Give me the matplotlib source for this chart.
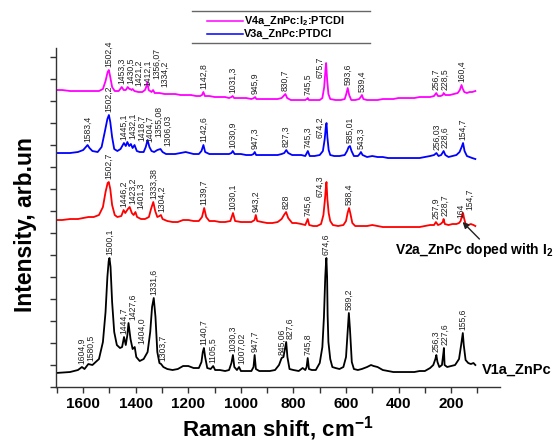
import numpy as np
import matplotlib.pyplot as plt
from matplotlib.ticker import MultipleLocator, NullFormatter
from matplotlib.lines import Line2D

plt.rcParams['font.family'] = 'Liberation Sans'
plt.rcParams['mathtext.fontset'] = 'custom'                                   # bold sub/superscripts
plt.rcParams['mathtext.rm'] = 'Liberation Sans:bold'
plt.rcParams['mathtext.it'] = 'Liberation Sans:bold'
plt.rcParams['mathtext.bf'] = 'Liberation Sans:bold'

# Raman spectra, (shift cm-1, intensity) with the stacking offset already in
v1a = [(1705, 14), (1650, 15), (1620, 17), (1604.9, 20), (1595, 18), (1580.5, 23), (1565, 22),
       (1540, 28), (1525, 45), (1515, 75), (1508, 110), (1503, 126), (1500.1, 129), (1496, 120),
       (1490, 85), (1482, 55), (1472, 42), (1460, 39), (1452, 40), (1444.7, 50), (1438, 42),
       (1432, 52), (1427.6, 64),
       (1420, 48), (1412, 38), (1404, 40), (1398, 30), (1385, 26), (1370, 28), (1355, 35),
       (1345, 55), (1338, 80), (1331.6, 89), (1325, 70), (1318, 35), (1310, 24), (1303.7, 23),
       (1295, 20), (1280, 18), (1260, 17), (1240, 18), (1220, 21), (1200, 21), (1180, 19),
       (1160, 19), (1150, 25), (1145, 35), (1140.7, 39), (1136, 30), (1128, 19), (1115, 18),
       (1105.5, 21), (1098, 17), (1080, 17), (1060, 16), (1045, 17), (1036, 24), (1030.3, 32),
       (1025, 20), (1015, 17), (1007.02, 20), (1000, 16), (980, 16), (960, 16), (952, 20),
       (947.7, 32), (943, 18), (930, 16), (910, 16), (890, 16), (870, 17), (855, 22), (845.06, 29),
       (838, 30), (831, 40), (827.6, 45), (823, 30), (815, 18), (800, 17), (780, 16), (765, 19),
       (755, 17), (750, 20), (745.8, 29), (741, 18), (730, 17), (715, 17), (700, 24), (690, 40),
       (684, 70), (679, 110), (676, 125), (674.6, 129), (672, 110), (670, 72), (667, 45), (660, 28),
       (652, 20), (640, 19),
       (625, 18), (610, 20), (600, 30), (594, 55), (589.2, 74), (585, 58), (578, 25), (570, 18),
       (555, 17), (540, 18), (520, 20), (505, 22), (495, 21), (480, 20), (460, 17), (440, 16),
       (420, 15), (400, 15), (380, 15), (360, 15), (340, 15), (320, 16), (300, 16), (280, 19),
       (268, 22), (260, 28), (256.3, 32), (252, 25), (245, 20), (235, 22), (229, 35), (227.6, 39),
       (225, 22), (215, 20), (200, 21), (185, 22), (170, 28), (162, 42), (157, 52), (155.6, 54),
       (152, 42), (145, 27), (135, 24), (125, 23), (115, 24), (108, 22)]

v2a = [(1705, 167), (1680, 167), (1650, 168), (1620, 168), (1600, 169), (1580, 170), (1560, 170),
       (1540, 172), (1525, 180), (1515, 195), (1507, 204), (1502.7, 205), (1497, 198), (1490, 182),
       (1480, 172), (1470, 170), (1455, 171), (1446.2, 177), (1440, 174), (1430, 178), (1423.2, 180),
       (1415, 174), (1408, 172), (1401.3, 175), (1395, 170), (1380, 168), (1365, 168), (1350, 170),
       (1342, 178), (1333.38, 185), (1326, 176), (1318, 170), (1310, 171), (1304.2, 172), (1298, 168),
       (1280, 166), (1260, 165), (1240, 165), (1220, 167), (1200, 167), (1180, 166), (1160, 166),
       (1148, 170), (1139.7, 179), (1132, 170), (1120, 166), (1100, 166), (1080, 165), (1060, 165),
       (1040, 166), (1030.1, 174), (1022, 166), (1000, 165), (980, 165), (960, 165), (948, 167),
       (943.2, 172), (938, 166), (920, 165), (900, 164), (880, 164), (860, 165), (845, 168),
       (836, 172), (828, 175), (820, 169), (805, 164), (790, 164), (770, 163), (755, 162),
       (745.6, 168), (740, 162), (725, 161), (710, 161), (695, 163), (686, 172), (680, 188),
       (676, 202), (674.3, 205), (671, 188), (666, 174), (660, 166), (650, 162), (630, 161),
       (610, 162), (600, 166), (594, 174), (588.4, 179), (583, 173), (576, 164), (565, 161),
       (540, 161), (520, 161), (500, 162), (480, 161), (460, 160), (440, 160), (420, 160),
       (400, 160), (380, 160), (360, 160), (340, 160), (320, 160), (300, 161), (280, 162),
       (265, 162), (257.9, 165), (250, 162), (240, 163), (232, 165), (228.7, 168), (224, 163),
       (210, 162), (195, 163), (180, 163), (170, 164), (164, 166), (160, 170), (156, 174),
       (154.7, 174), (151, 169), (145, 163), (135, 162), (125, 163), (115, 162), (108, 161)]

v3a = [(1705, 234), (1680, 234), (1650, 234), (1620, 235), (1600, 237), (1590, 240), (1583.4, 242),
       (1576, 239), (1565, 236), (1545, 235), (1530, 240), (1518, 255), (1508, 268), (1502.2, 272),
       (1497, 265), (1490, 250), (1482, 238), (1470, 236), (1458, 238), (1445.1, 244), (1438, 241),
       (1432.1, 245), (1425, 241), (1418.7, 243), (1412, 239), (1404.7, 242), (1396, 236),
       (1385, 235), (1370, 235), (1362, 240), (1355.08, 247), (1348, 240), (1340, 236), (1330, 235),
       (1318, 237), (1306.03, 238), (1298, 235), (1285, 233), (1270, 233), (1250, 233), (1230, 234),
       (1210, 235), (1195, 234), (1180, 233), (1160, 233), (1150, 236), (1142.6, 242), (1136, 235),
       (1120, 233), (1100, 233), (1080, 233), (1060, 233), (1045, 233), (1036, 234), (1030.9, 236),
       (1024, 233), (1000, 233), (980, 232), (960, 232), (952, 233), (947.3, 235), (942, 232),
       (920, 232), (900, 232), (880, 232), (860, 232), (845, 233), (835, 234), (827.3, 237),
       (820, 234), (805, 232), (790, 232), (770, 232), (755, 231), (745.3, 236), (738, 231),
       (720, 231), (700, 232), (688, 236), (681, 248), (677, 260), (674.2, 264), (671, 250),
       (666, 237), (660, 232), (645, 231), (625, 231), (605, 232), (596, 236), (590, 240),
       (585.01, 241), (579, 236), (570, 231), (555, 231), (548, 233), (543.3, 235), (537, 232),
       (520, 230), (500, 231), (480, 230), (460, 230), (440, 229), (420, 229), (400, 229),
       (380, 229), (360, 229), (340, 229), (320, 229), (300, 230), (280, 231), (265, 232),
       (256.03, 234), (248, 231), (238, 232), (228.6, 236), (222, 232), (210, 230), (195, 231),
       (180, 232), (168, 235), (160, 240), (154.7, 244), (149, 236), (140, 231), (130, 230),
       (120, 229), (108, 228)]

v4a = [(1705, 297), (1680, 297), (1650, 296), (1620, 296), (1600, 296), (1580, 296), (1560, 296),
       (1540, 296), (1525, 298), (1515, 306), (1507, 315), (1502.4, 317), (1497, 310), (1490, 300),
       (1480, 296), (1465, 296), (1453.3, 300), (1446, 297), (1438, 297), (1430.5, 300), (1424, 298),
       (1421.2, 298), (1416, 297), (1412.1, 298), (1405, 296), (1390, 295), (1375, 295), (1365, 297),
       (1360, 300), (1356.07, 305), (1351, 297), (1340, 295), (1334.2, 297), (1328, 294), (1310, 294),
       (1290, 293), (1270, 293), (1250, 293), (1230, 292), (1210, 292), (1190, 292), (1170, 291),
       (1155, 291), (1148, 292), (1142.8, 295), (1137, 291), (1120, 291), (1100, 290), (1080, 290),
       (1060, 290), (1045, 289), (1036, 290), (1031.3, 291), (1026, 289), (1000, 289), (980, 289),
       (960, 288), (950, 289), (945.9, 290), (941, 288), (920, 288), (900, 288), (880, 288),
       (860, 288), (845, 289), (838, 291), (830.7, 293), (824, 289), (810, 287), (790, 287),
       (770, 287), (755, 287), (749, 288), (745.5, 289), (741, 287), (720, 287), (700, 287),
       (690, 289), (683, 300), (678, 318), (675.7, 324), (672, 308), (667, 293), (660, 288),
       (640, 287), (620, 287), (605, 288), (599, 293), (593.6, 299), (588, 292), (580, 287),
       (565, 287), (550, 288), (544, 290), (539.4, 292), (534, 288), (520, 287), (500, 287),
       (480, 287), (460, 288), (440, 288), (420, 288), (400, 289), (380, 289), (360, 289),
       (340, 289), (320, 290), (300, 290), (280, 290), (265, 291), (256.7, 294), (250, 291),
       (240, 291), (232, 292), (228.5, 294), (222, 292), (205, 292), (190, 293), (175, 294),
       (167, 297), (163, 300), (160.4, 302), (157, 299), (150, 295), (140, 294), (130, 295),
       (120, 295), (108, 296)]

# assigned peak positions written on the plot
v1a_peaks = ['1604,9', '1580,5', '1500,1', '1444,7', '1427,6', '1404,0', '1331,6', '1303,7',
             '1140,7', '1105,5', '1030,3', '1007,02', '947,7', '845,06', '827,6', '745,8',
             '674,6', '589,2', '256,3', '227,6', '155,6']
v2a_peaks = ['1502,7', '1446,2', '1423,2', '1401,3', '1333,38', '1304,2', '1139,7', '1030,1',
             '943,2', '828', '745,6', '674,3', '588,4', '257,9', '228,7', '164', '154,7']
v3a_peaks = ['1583,4', '1502,2', '1445,1', '1432,1', '1418,7', '1404,7', '1355,08', '1306,03',
             '1142,6', '1030,9', '947,3', '827,3', '745,3', '674,2', '585,01', '543,3', '256,03',
             '228,6', '154,7']
v4a_peaks = ['1502,4', '1453,3', '1430,5', '1421,2', '1412,1', '1356,07', '1334,2', '1142,8',
             '1031,3', '945,9', '830,7', '745,5', '675,7', '593,6', '539,4', '256,7', '228,5',
             '160,4']

names = ['V1a_ZnPc', 'V2a_ZnPc doped with I$_2$', 'V3a_ZnPc:PTDCI', 'V4a_ZnPc:I$_2$:PTCDI']
colors = ['black', '#ff0000', '#0000ff', '#ff00ff']

fig = plt.figure(figsize=(5.6, 4.45), dpi=100)
ax = fig.add_axes([0.0993, 0.1303, 0.7936, 0.7618])

beside = ['675,7', '674,2', '674,3']                                           # tall peaks: label goes next to the line

def peak_labels(d, peaks, dy=3, gap=33):
    last = 1e9
    for p in peaks:                                                            # peaks run left to right
        w = float(p.replace(',', '.'))
        h = np.interp(w, d[::-1, 0], d[::-1, 1])                             # height of curve at the peak
        xt = min(w, last - gap)                                                # push crowded labels apart
        last = xt
        yt = h + dy
        if p in beside:
            xt = w + 24; yt = h - 15
        ax.text(xt, yt, p, rotation=90, ha='center', va='bottom', fontsize=6.2, color='#222222')

spectra = [v1a, v2a, v3a, v4a]
peaks = [v1a_peaks, v2a_peaks, v3a_peaks, v4a_peaks]
lines = []
for pts, pk, c in zip(spectra, peaks, colors):
    d = np.array(pts)
    ln, = ax.plot(d[:, 0], d[:, 1], color=c, lw=1.3)
    lines.append(ln)
    peak_labels(d, pk)

ax.set_xlim(1705, 14)
ax.set_ylim(0, 339)
ax.spines['top'].set_visible(False)
ax.spines['right'].set_visible(False)
for s in ['left', 'bottom']:
    ax.spines[s].set_color('#333333')
    ax.spines[s].set_linewidth(1.0)

ax.set_xticks(range(200, 1601, 200))
ax.xaxis.set_minor_locator(MultipleLocator(100))
ax.yaxis.set_major_locator(MultipleLocator(22))
ax.yaxis.set_major_formatter(NullFormatter())
ax.tick_params(which='both', direction='out', length=4, width=1, color='#333333')
ax.tick_params(axis='x', labelsize=11, pad=3)
for t in ax.get_xticklabels():
    t.set_fontweight('bold')

ax.set_xlabel('Raman shift, cm$^{-1}$', fontsize=16, fontweight='bold')
ax.xaxis.set_label_coords(0.5, -0.08)
ax.set_ylabel('Intensity, arb.un', fontsize=16.5, fontweight='bold')
ax.yaxis.set_label_coords(-0.042, 0.478)

# series names
ax.text(82, 17, names[0], fontsize=10.5, fontweight='bold', va='center', ha='left', clip_on=False)
ax.text(413, 137, names[1], fontsize=10, fontweight='bold', va='center', ha='left', clip_on=False)
ax.annotate('', xy=(164, 167), xytext=(85, 146),
            arrowprops=dict(arrowstyle='-|>', color='#222222', lw=1.0, mutation_scale=9))

# legend box with only top and bottom rules
for yy in [1 - 11/445, 1 - 43/445]:
    fig.add_artist(Line2D([192/560, 370/560], [yy, yy], color='#666666', lw=1.0,
                          transform=fig.transFigure))
for i, (ln, nm) in enumerate([(lines[3], names[3]), (lines[2], names[2])]):
    yy = 1 - (21 + 12.5*i)/445
    fig.add_artist(Line2D([207/560, 243/560], [yy, yy], color=ln.get_color(), lw=1.1,
                          transform=fig.transFigure))
    fig.text(244/560, yy, nm, fontsize=7.8, fontweight='bold', va='center', ha='left')

fig.savefig('out.png', dpi=100)
